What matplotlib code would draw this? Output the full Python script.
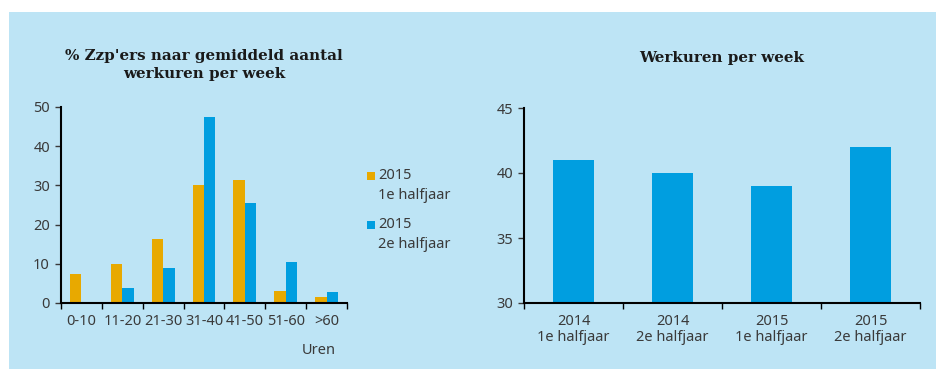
import numpy as np
import matplotlib.pyplot as plt
from matplotlib.patches import Rectangle

# data
#------------------------------
klassen = ['0-10', '11-20', '21-30', '31-40', '41-50', '51-60', '>60']
h1_2015 = [7.5, 10.0, 16.3, 30.0, 31.5, 3.0, 1.5]
h2_2015 = [0.0, 3.8, 9.0, 47.5, 25.5, 10.5, 2.7]
reeksen = [('2015', '1e halfjaar'), ('2015', '2e halfjaar')]

perioden = ['2014\n1e halfjaar', '2014\n2e halfjaar', '2015\n1e halfjaar', '2015\n2e halfjaar']
werkuren = [41, 40, 39, 42]
#------------------------------

oranje = '#E8A900'
blauw = '#009EE0'
achtergrond = '#BDE4F5'
tekst = '#3a3a3a'
fs = 10.5
plt.rcParams['font.family'] = ['Noto Sans', 'DejaVu Sans']
plt.rcParams['font.size'] = fs
titel_font = dict(family='DejaVu Serif', fontweight='bold', fontsize=10.9, color='#1a1a1a')

fig = plt.figure(figsize=(9.37, 3.69), dpi=100)
fig.patch.set_facecolor('white')
W, H = 937, 369
fig.add_artist(Rectangle((9 / W, 0), 1 - 9 / W, 1 - 12 / H, transform=fig.transFigure,
                         facecolor=achtergrond, edgecolor='none', zorder=-10))


def opmaak(ax):
    ax.set_facecolor('none')
    for s in ['top', 'right']:
        ax.spines[s].set_visible(False)
    for s in ['left', 'bottom']:
        ax.spines[s].set_linewidth(1.5)
        ax.spines[s].set_color('black')
    ax.tick_params(axis='y', length=4, width=1, colors=tekst, labelsize=fs, pad=4)
    ax.tick_params(axis='x', which='major', length=0, colors=tekst, labelsize=fs, pad=8)
    ax.tick_params(axis='x', which='minor', length=4, width=1, direction='out')


# left: distribution of hours
#------------------------------
ax1 = fig.add_axes([61 / W, 1 - 303 / H, 286 / W, 196 / H])
x = np.arange(len(klassen))
bw = 0.28
ax1.bar(x - bw / 2, h1_2015, bw, color=oranje)
ax1.bar(x + bw / 2, h2_2015, bw, color=blauw)
ax1.set_xlim(-0.5, len(klassen) - 0.5)
ax1.set_ylim(0, 50)
ax1.set_yticks([0, 10, 20, 30, 40, 50])
ax1.set_xticks(x)
ax1.set_xticklabels(klassen)
ax1.set_xticks(np.arange(-0.5, len(klassen)), minor=True)
opmaak(ax1)
ax1.set_title("% Zzp'ers naar gemiddeld aantal\nwerkuren per week", pad=21,
              linespacing=1.35, **titel_font)
ax1.text(0.962, -0.204, 'Uren', transform=ax1.transAxes, ha='right', va='top',
         color=tekst, fontsize=fs)

# legend, square next to the first line of each label
for i, (kleur, (jaar, half)) in enumerate(zip([oranje, blauw], reeksen)):
    y0 = 0.648 - i * 0.25
    ax1.add_patch(Rectangle((1.070, y0 - 0.02), 0.028, 0.038, transform=ax1.transAxes,
                            facecolor=kleur, edgecolor='none', clip_on=False))
    ax1.text(1.108, y0, jaar, transform=ax1.transAxes, va='center', ha='left',
             color=tekst, fontsize=fs)
    ax1.text(1.108, y0 - 0.097, half, transform=ax1.transAxes, va='center', ha='left',
             color=tekst, fontsize=fs)

# right: average hours per week
#------------------------------
ax2 = fig.add_axes([524 / W, 1 - 303 / H, 396 / W, 195 / H])
x2 = np.arange(len(perioden))
ax2.bar(x2, werkuren, 0.41, color=blauw)
ax2.set_xlim(-0.5, len(perioden) - 0.5)
ax2.set_ylim(30, 45)
ax2.set_yticks([30, 35, 40, 45])
ax2.set_xticks(x2)
ax2.set_xticklabels(perioden, linespacing=1.05)
ax2.set_xticks(np.arange(-0.5, len(perioden)), minor=True)
opmaak(ax2)
ax2.set_title('Werkuren per week', pad=33, **titel_font)

plt.savefig('out.png', dpi=100, facecolor=fig.get_facecolor())
